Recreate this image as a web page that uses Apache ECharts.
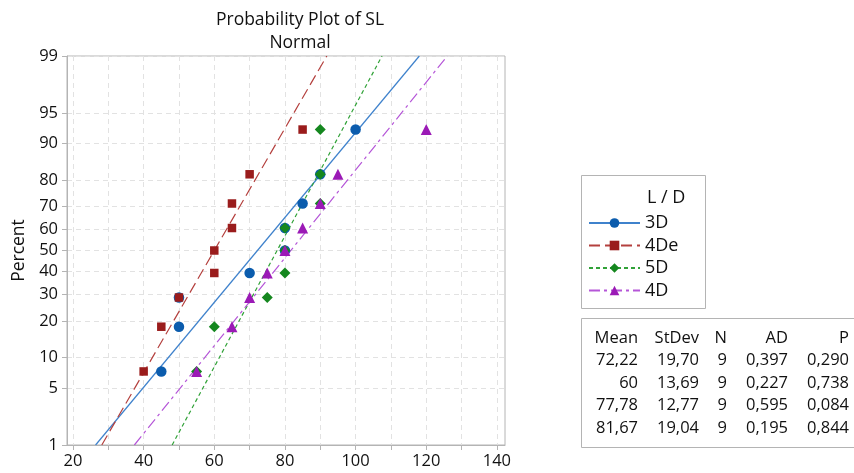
<!DOCTYPE html>
<html>
<head>
<meta charset="utf-8">
<script src="https://cdn.jsdelivr.net/npm/echarts@6/dist/echarts.min.js"></script>
<style>
  html, body { margin: 0; padding: 0; background: #fff; }
  #chart { width: 854px; height: 473px; }
</style>
</head>
<body>
<div id="chart"></div>
<script>
// plotting positions (percent) shared by every group, n = 9
var pct = [7.4, 18.1, 28.7, 39.4, 50, 60.6, 71.3, 81.9, 92.6];

// SL values per L / D group, sorted
var sl3D  = [45, 50, 50, 70, 80, 80, 85, 90, 100];
var sl4De = [40, 45, 50, 60, 60, 65, 65, 70, 85];
var sl5D  = [55, 60, 75, 80, 80, 80, 90, 90, 90];
var sl4D  = [55, 65, 70, 75, 80, 85, 90, 95, 120];

var groups = ['3D', '4De', '5D', '4D'];
var means  = [72.22, 60, 77.78, 81.67];
var stdevs = [19.70, 13.69, 12.77, 19.04];

// stats table text
var tblHead  = ['Mean', 'StDev', 'N', 'AD', 'P'];
var tblMean  = ['72,22', '60', '77,78', '81,67'];
var tblStDev = ['19,70', '13,69', '12,77', '19,04'];
var tblN     = ['9', '9', '9', '9'];
var tblAD    = ['0,397', '0,227', '0,595', '0,195'];
var tblP     = ['0,290', '0,738', '0,084', '0,844'];

var yTicks = [1, 5, 10, 20, 30, 40, 50, 60, 70, 80, 90, 95, 99];
var xLabels = [20, 40, 60, 80, 100, 120, 140];
var xTicks = [20, 30, 40, 50, 60, 70, 80, 90, 100, 110, 120, 130, 140];

// inverse normal cdf (Acklam)
function normInv(p) {
	var a = [-3.969683028665376e+01, 2.209460984245205e+02, -2.759285104469687e+02, 1.383577518672690e+02, -3.066479806614716e+01, 2.506628277459239e+00];
	var b = [-5.447609879822406e+01, 1.615858368580409e+02, -1.556989798598866e+02, 6.680131188771972e+01, -1.328068155288572e+01];
	var c = [-7.784894002430293e-03, -3.223964580411365e-01, -2.400758277161838e+00, -2.549732539343734e+00, 4.374664141464968e+00, 2.938163982698783e+00];
	var d = [7.784695709041462e-03, 3.224671290700398e-01, 2.445134137142996e+00, 3.754408661907416e+00];
	var plow = 0.02425, q, r;
	if (p < plow) {
		q = Math.sqrt(-2 * Math.log(p));
		return (((((c[0]*q+c[1])*q+c[2])*q+c[3])*q+c[4])*q+c[5]) / ((((d[0]*q+d[1])*q+d[2])*q+d[3])*q+1);
	}
	if (p <= 1 - plow) {
		q = p - 0.5; r = q * q;
		return (((((a[0]*r+a[1])*r+a[2])*r+a[3])*r+a[4])*r+a[5])*q / (((((b[0]*r+b[1])*r+b[2])*r+b[3])*r+b[4])*r+1);
	}
	q = Math.sqrt(-2 * Math.log(1 - p));
	return -(((((c[0]*q+c[1])*q+c[2])*q+c[3])*q+c[4])*q+c[5]) / ((((d[0]*q+d[1])*q+d[2])*q+d[3])*q+1);
}

var zMin = normInv(0.01), zMax = normInv(0.99);
var yTickZ = yTicks.map(function (p) { return normInv(p / 100); });

var FONT = 'Open Sans';
var TXT = '#111';
var styles = {
	'3D':  { mark: '#0b5cad', line: '#3f82cc', symbol: 'circle',   size: 10.5, dash: 'solid' },
	'4De': { mark: '#9a1c1c', line: '#b4403e', symbol: 'rect',     size: 8.5, dash: [11, 5] },
	'5D':  { mark: '#15871f', line: '#31a238', symbol: 'diamond',  size: 11, dash: [4, 3] },
	'4D':  { mark: '#9b1ab6', line: '#b556d8', symbol: 'triangle', size: 11, dash: [11, 4, 3, 4] }
};
var values = { '3D': sl3D, '4De': sl4De, '5D': sl5D, '4D': sl4D };

var series = [];
// fitted lines first (the legend takes its icon from them)
groups.forEach(function (g, i) {
	var st = styles[g];
	series.push({
		name: g,
		type: 'line',
		symbol: st.symbol,
		symbolSize: st.size,
		showSymbol: false,
		silent: true,
		itemStyle: { color: st.mark },
		lineStyle: { color: st.line, width: 1.2, type: st.dash },
		data: [[means[i] + stdevs[i] * zMin, zMin], [means[i] + stdevs[i] * zMax, zMax]],
		z: 2
	});
});
groups.forEach(function (g) {
	var st = styles[g];
	series.push({
		name: g,
		type: 'scatter',
		symbol: st.symbol,
		symbolSize: st.size,
		itemStyle: { color: st.mark, opacity: 1 },
		data: values[g].map(function (v, k) { return [v, normInv(pct[k] / 100)]; }),
		z: 3
	});
});

function txt(x, y, s, size, align) {
	return { type: 'text', x: x, y: y, style: { text: s, font: size + 'px "' + FONT + '"', fill: TXT, textAlign: align || 'left', textVerticalAlign: 'middle' } };
}

var graphics = [
	txt(300, 20, 'Probability Plot of SL', 17.5, 'center'),
	txt(300, 43, 'Normal', 17.5, 'center'),
	{ type: 'rect', shape: { x: 581.5, y: 175.5, width: 124, height: 133 }, style: { fill: 'none', stroke: '#b4b4b4', lineWidth: 1 } },
	txt(647, 198, 'L / D', 18),
	{ type: 'rect', shape: { x: 581.5, y: 318.5, width: 300, height: 129 }, style: { fill: 'none', stroke: '#b4b4b4', lineWidth: 1 } }
];

var colRight = [638, 699, 727, 788, 849];
var cols = [tblMean, tblStDev, tblN, tblAD, tblP];
var rowY = [338, 360, 383, 405, 428];
tblHead.forEach(function (h, c) {
	graphics.push(txt(colRight[c], rowY[0], h, 16.5, 'right'));
	cols[c].forEach(function (t, r) {
		graphics.push(txt(colRight[c], rowY[r + 1], t, 16.5, 'right'));
	});
});

var myChart = echarts.init(document.getElementById('chart'));
var option = {
	backgroundColor: '#fff',
	animation: false,
	textStyle: { fontFamily: FONT },
	grid: { left: 67, right: 349, top: 56, bottom: 28, show: true, borderColor: '#b4b4b4', borderWidth: 1 },
	legend: {
		data: groups,
		orient: 'vertical',
		left: 588,
		top: 214,
		padding: 0,
		itemWidth: 51,
		itemHeight: 12,
		itemGap: 4.5,
		textStyle: { fontSize: 18, color: TXT, fontFamily: FONT },
		selectedMode: false
	},
	xAxis: {
		type: 'value',
		min: 18.3,
		max: 142.3,
		axisLine: { show: true, onZero: false, lineStyle: { color: '#b4b4b4' } },
		axisTick: { show: true, length: 5, customValues: xTicks, lineStyle: { color: '#b4b4b4' } },
		axisLabel: { customValues: xLabels, color: TXT, fontSize: 16.5, margin: 8, fontFamily: FONT },
		splitLine: { show: true, lineStyle: { color: '#e2e2e2', type: [5, 4] } }
	},
	yAxis: {
		type: 'value',
		min: zMin,
		max: zMax,
		name: 'Percent',
		nameLocation: 'middle',
		nameGap: 31,
		nameRotate: 90,
		nameTextStyle: { color: TXT, fontSize: 17.5, fontFamily: FONT },
		axisLine: { show: true, onZero: false, lineStyle: { color: '#b4b4b4' } },
		axisTick: { show: true, length: 5, customValues: yTickZ, lineStyle: { color: '#b4b4b4' } },
		axisLabel: {
			customValues: yTickZ, color: TXT, fontSize: 16.5, margin: 9, fontFamily: FONT,
			formatter: function (v) {
				for (var i = 0; i < yTickZ.length; i++) {
					if (Math.abs(yTickZ[i] - v) < 1e-6) return String(yTicks[i]);
				}
				return '';
			}
		},
		splitLine: { show: true, lineStyle: { color: '#e2e2e2', type: [5, 4] } }
	},
	graphic: graphics,
	series: series
};
myChart.setOption(option);
</script>
</body>
</html>
